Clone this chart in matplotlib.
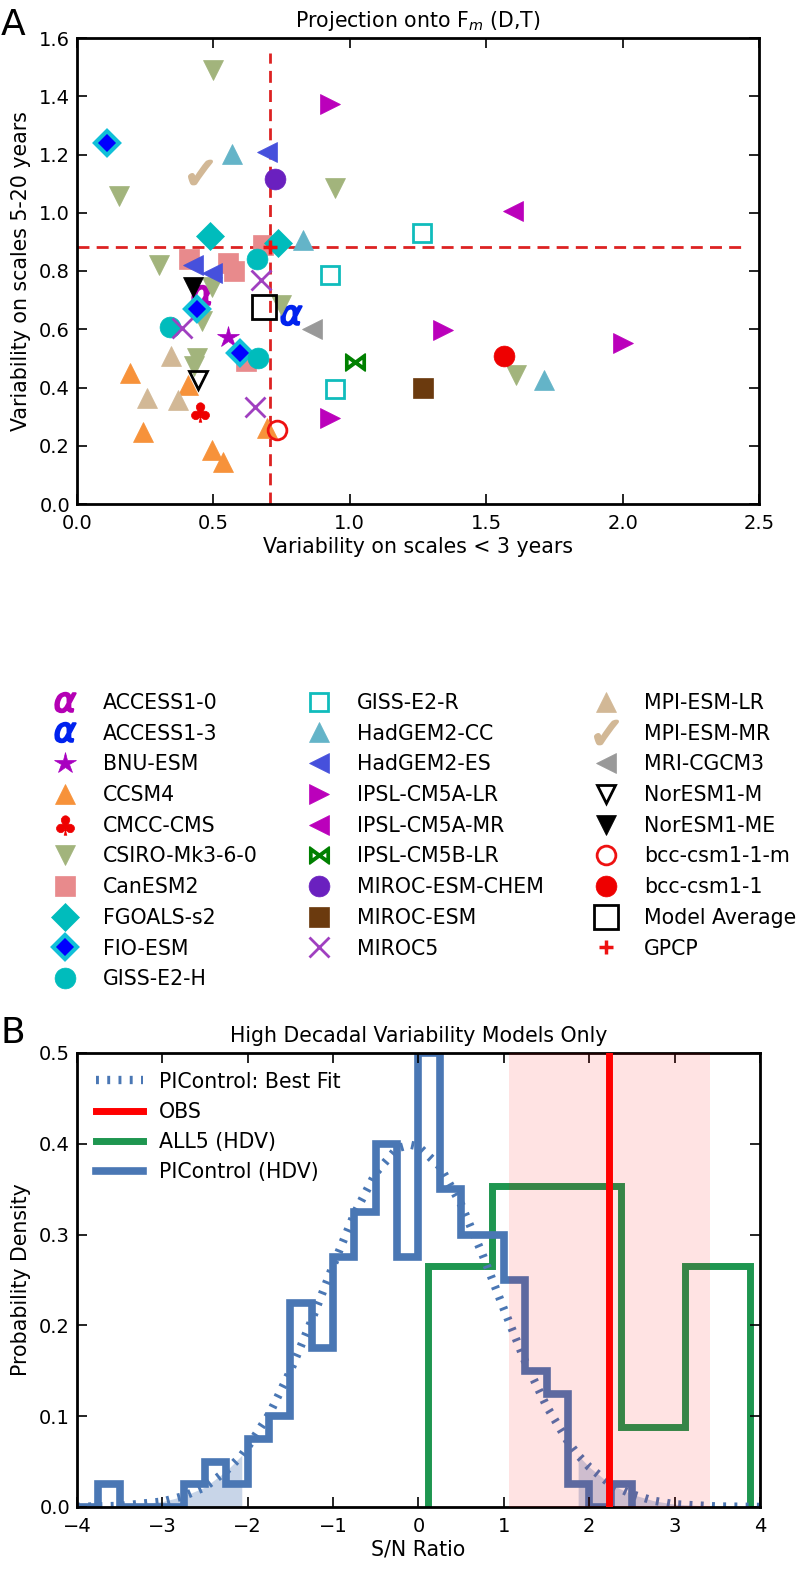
import matplotlib
matplotlib.use("Agg")
import matplotlib.pyplot as plt
import numpy as np

# ---- panel A data: (variability < 3 yr, variability 5-20 yr) per model ----
models = [
    "ACCESS1-0", "ACCESS1-3", "BNU-ESM", "CCSM4", "CMCC-CMS", "CSIRO-Mk3-6-0",
    "CanESM2", "FGOALS-s2", "FIO-ESM", "GISS-E2-H", "GISS-E2-R", "HadGEM2-CC",
    "HadGEM2-ES", "IPSL-CM5A-LR", "IPSL-CM5A-MR", "IPSL-CM5B-LR", "MIROC-ESM-CHEM",
    "MIROC-ESM", "MIROC5", "MPI-ESM-LR", "MPI-ESM-MR", "MRI-CGCM3", "NorESM1-M",
    "NorESM1-ME", "bcc-csm1-1-m", "bcc-csm1-1", "Model Average", "GPCP",
]
short_var = {
    "ACCESS1-0": [0.457], "ACCESS1-3": [0.785], "BNU-ESM": [0.555],
    "CCSM4": [0.194, 0.243, 0.408, 0.494, 0.536, 0.695],
    "CMCC-CMS": [0.451],
    "CSIRO-Mk3-6-0": [0.155, 0.497, 0.946, 0.302, 0.494, 0.457, 0.440, 0.430, 0.747, 1.609],
    "CanESM2": [0.411, 0.552, 0.576, 0.683, 0.620],
    "FGOALS-s2": [0.488, 0.738],
    "FIO-ESM": [0.109, 0.439, 0.598],
    "GISS-E2-H": [0.341, 0.659, 0.662],
    "GISS-E2-R": [1.266, 0.927, 0.946],
    "HadGEM2-CC": [0.569, 0.827, 1.712],
    "HadGEM2-ES": [0.695, 0.426, 0.494],
    "IPSL-CM5A-LR": [0.927, 1.340, 2.000, 0.927],
    "IPSL-CM5A-MR": [1.599], "IPSL-CM5B-LR": [1.019], "MIROC-ESM-CHEM": [0.726],
    "MIROC-ESM": [1.267],
    "MIROC5": [0.673, 0.384, 0.6525],
    "MPI-ESM-LR": [0.343, 0.255, 0.371],
    "MPI-ESM-MR": [0.451], "MRI-CGCM3": [0.863], "NorESM1-M": [0.445],
    "NorESM1-ME": [0.426], "bcc-csm1-1-m": [0.734], "bcc-csm1-1": [1.566],
    "Model Average": [0.687], "GPCP": [0.708],
}
long_var = {
    "ACCESS1-0": [0.718], "ACCESS1-3": [0.649], "BNU-ESM": [0.575],
    "CCSM4": [0.449, 0.248, 0.409, 0.185, 0.145, 0.260],
    "CMCC-CMS": [0.317],
    "CSIRO-Mk3-6-0": [1.058, 1.490, 1.084, 0.821, 0.746, 0.629, 0.500, 0.474, 0.683, 0.443],
    "CanESM2": [0.840, 0.826, 0.800, 0.889, 0.490],
    "FGOALS-s2": [0.920, 0.895],
    "FIO-ESM": [1.238, 0.670, 0.520],
    "GISS-E2-H": [0.609, 0.840, 0.500],
    "GISS-E2-R": [0.932, 0.786, 0.394],
    "HadGEM2-CC": [1.202, 0.906, 0.426],
    "HadGEM2-ES": [1.207, 0.821, 0.794],
    "IPSL-CM5A-LR": [1.373, 0.597, 0.554, 0.294],
    "IPSL-CM5A-MR": [1.007], "IPSL-CM5B-LR": [0.489], "MIROC-ESM-CHEM": [1.115],
    "MIROC-ESM": [0.397],
    "MIROC5": [0.769, 0.603, 0.334],
    "MPI-ESM-LR": [0.509, 0.363, 0.357],
    "MPI-ESM-MR": [1.141], "MRI-CGCM3": [0.600], "NorESM1-M": [0.426],
    "NorESM1-ME": [0.746], "bcc-csm1-1-m": [0.254], "bcc-csm1-1": [0.508],
    "Model Average": [0.675], "GPCP": [0.881],
}
gpcp_x = 0.708
gpcp_y = 0.881
vline_top = 1.55
hline_right = 2.45

# ---- panel B data ----
pic_edges = [-4.0, -3.75, -3.5, -3.25, -3.0, -2.75, -2.5, -2.25, -2.0, -1.75, -1.5,
             -1.25, -1.0, -0.75, -0.5, -0.25, 0.0, 0.25, 0.5, 0.75, 1.0, 1.25, 1.5,
             1.75, 2.0, 2.25, 2.5]
pic_density = [0.0, 0.025, 0.0, 0.0, 0.0, 0.025, 0.05, 0.025, 0.075, 0.1, 0.225,
               0.175, 0.275, 0.325, 0.4, 0.275, 0.5, 0.35, 0.3, 0.3, 0.25, 0.15,
               0.125, 0.025, 0.0, 0.025]
all5_edges = [0.11, 0.864, 1.618, 2.372, 3.126, 3.88]
all5_density = [0.265, 0.353, 0.353, 0.088, 0.265]
fit_x = [-4.0, -3.5, -3.0, -2.75, -2.5, -2.25, -2.07, -2.0, -1.75, -1.5, -1.25, -1.0,
         -0.75, -0.5, -0.25, -0.1, 0.0, 0.25, 0.5, 0.75, 1.0, 1.25, 1.5, 1.75, 1.87,
         2.0, 2.25, 2.5, 2.75, 3.0, 3.5, 4.0]
fit_y = [0.0002, 0.0012, 0.006, 0.012, 0.022, 0.040, 0.057, 0.066, 0.102, 0.150,
         0.206, 0.266, 0.323, 0.368, 0.395, 0.399, 0.397, 0.375, 0.333, 0.278, 0.218,
         0.160, 0.111, 0.072, 0.057, 0.044, 0.025, 0.014, 0.007, 0.003, 0.0006, 0.0001]
low_tail = -2.07
high_tail = 1.87
obs_value = 2.23
obs_range = (1.06, 3.41)

FS = 14.8     # labels / legend
TS = 14       # tick labels
plt.rcParams["font.family"] = ["DejaVu Sans"]
plt.rcParams["font.size"] = FS

styles = {
    "ACCESS1-0": dict(marker=r"$\alpha$", color="#b400b4", ms=14.5, mew=1.6),
    "ACCESS1-3": dict(marker=r"$\alpha$", color="#0022ee", ms=14.5, mew=1.6),
    "BNU-ESM": dict(marker="*", color="#a800c0", ms=16),
    "CCSM4": dict(marker="^", color="#f7923a", ms=15),
    "CMCC-CMS": dict(marker=r"$\clubsuit$", color="#ee0000", ms=14),
    "CSIRO-Mk3-6-0": dict(marker="v", color="#a2b47c", ms=15),
    "CanESM2": dict(marker="s", color="#e88a8c", ms=14.5),
    "FGOALS-s2": dict(marker="D", color="#00bcbc", ms=14),
    "FIO-ESM": dict(marker="D", color="#0000ff", mec="#10c0d8", mew=3, ms=12.5),
    "GISS-E2-H": dict(marker="o", color="#00bcbc", ms=15),
    "GISS-E2-R": dict(marker="s", color="#10bcbc", mfc="none", mew=2, ms=13),
    "HadGEM2-CC": dict(marker="^", color="#64b4c8", ms=15),
    "HadGEM2-ES": dict(marker="<", color="#4650dc", ms=15),
    "IPSL-CM5A-LR": dict(marker=">", color="#bb00bb", ms=15),
    "IPSL-CM5A-MR": dict(marker="<", color="#bb00bb", ms=15),
    "IPSL-CM5B-LR": dict(marker=r"$\bowtie$", color="#008000", ms=14, mew=1.2),
    "MIROC-ESM-CHEM": dict(marker="o", color="#6a20bf", ms=15),
    "MIROC-ESM": dict(marker="s", color="#6b3a0e", ms=14.5),
    "MIROC5": dict(marker="x", color="#a040c0", ms=14, mew=2),
    "MPI-ESM-LR": dict(marker="^", color="#d2b896", ms=15),
    "MPI-ESM-MR": dict(marker=r"$\checkmark$", color="#d2b896", ms=16.5, mew=2),
    "MRI-CGCM3": dict(marker="<", color="#999999", ms=15),
    "NorESM1-M": dict(marker="v", color="black", mfc="none", mew=2, ms=13.5),
    "NorESM1-ME": dict(marker="v", color="black", ms=15),
    "bcc-csm1-1-m": dict(marker="o", color="#ee1111", mfc="none", mew=2, ms=13.5),
    "bcc-csm1-1": dict(marker="o", color="#ee0000", ms=15),
    "Model Average": dict(marker="s", color="black", mfc="none", mew=2, ms=17.5),
    "GPCP": dict(marker="+", color="#ee1111", ms=9.5, mew=2.5),
}

fig = plt.figure(figsize=(7.96, 15.76), dpi=100)
W, H = 796.0, 1576.0


def style_axes(ax):
    for sp in ax.spines.values():
        sp.set_linewidth(2)
    ax.tick_params(direction="in", top=True, right=True, length=7, width=1.2,
                   labelsize=TS)
    ax.tick_params(axis="x", pad=7)
    ax.tick_params(axis="y", pad=5)


# ---------------- panel A ----------------
ax1 = fig.add_axes([77 / W, 1 - 504 / H, (759 - 77) / W, (504 - 38) / H])
style_axes(ax1)
ax1.plot([gpcp_x, gpcp_x], [0, vline_top], color="#dd2222", lw=2, dashes=(4.3, 2.6))
ax1.plot([0, hline_right], [gpcp_y, gpcp_y], color="#dd2222", lw=2, dashes=(4.3, 2.6))

handles = []
for name in models:
    st = dict(styles[name])
    color = st.pop("color")
    st.setdefault("mfc", color)
    st.setdefault("mec", color)
    st.setdefault("mew", 0.5)
    (h,) = ax1.plot(short_var[name], long_var[name], ls="none", label=name, **st)
    handles.append(h)

ax1.set_xlim(0, 2.5)
ax1.set_ylim(0, 1.6)
ax1.set_xticks([0.0, 0.5, 1.0, 1.5, 2.0, 2.5])
ax1.set_yticks(np.round(np.arange(0, 1.61, 0.2), 1))
ax1.set_xlabel("Variability on scales < 3 years", fontsize=FS, labelpad=3)
ax1.set_ylabel("Variability on scales 5-20 years", fontsize=FS, labelpad=6)
ax1.set_title("Projection onto F$_m$ (D,T)", fontsize=FS, pad=8)

fig.legend(handles, models, loc="upper left", bbox_to_anchor=(44 / W, 1 - 693 / H),
           ncol=3, frameon=False, fontsize=FS, numpoints=1, borderpad=0,
           borderaxespad=0, handlelength=2, handletextpad=0.85, columnspacing=2.0,
           labelspacing=0.52)

# ---------------- panel B ----------------
ax2 = fig.add_axes([77 / W, 1 - 1507 / H, (760 - 77) / W, (1507 - 1053) / H])
style_axes(ax2)
blue = "#4a77b4"
green = "#1e9650"

fx = np.array(fit_x)
fy = np.array(fit_y)
ax2.fill_between(fx, 0, fy, where=fx <= low_tail, color=blue, alpha=0.3, lw=0)
ax2.fill_between(fx, 0, fy, where=fx >= high_tail, color=blue, alpha=0.3, lw=0)
ax2.stairs(all5_density, all5_edges, color=green, lw=5, label="ALL5 (HDV)")
ax2.stairs(pic_density, pic_edges, color=blue, lw=5.5, label="PIControl (HDV)")
ax2.plot(fit_x, fit_y, color=blue, lw=6, dashes=(0.35, 1.0),
         label="PIControl: Best Fit")
ax2.axvspan(obs_range[0], obs_range[1], color="red", alpha=0.11, lw=0, zorder=3)
ax2.axvline(obs_value, color="red", lw=5, zorder=4, label="OBS")

ax2.set_xlim(-4, 4)
ax2.set_ylim(0, 0.5)
ax2.set_xticks(range(-4, 5))
ax2.set_yticks([0.0, 0.1, 0.2, 0.3, 0.4, 0.5])
ax2.set_xlabel("S/N Ratio", fontsize=FS, labelpad=3)
ax2.set_ylabel("Probability Density", fontsize=FS, labelpad=6)
ax2.set_title("High Decadal Variability Models Only", fontsize=FS, pad=8)

h2, l2 = ax2.get_legend_handles_labels()
order = ["PIControl: Best Fit", "OBS", "ALL5 (HDV)", "PIControl (HDV)"]
hmap = dict(zip(l2, h2))
ax2.legend([hmap[k] for k in order], order, loc="upper left", frameon=False,
           fontsize=FS, handlelength=2.3, handletextpad=0.8, labelspacing=0.5)

fig.text(1 / W, 1 - 35 / H, "A", fontsize=26, va="baseline", ha="left")
fig.text(1 / W, 1 - 1043 / H, "B", fontsize=26, va="baseline", ha="left")

fig.savefig("out.png", dpi=100)
